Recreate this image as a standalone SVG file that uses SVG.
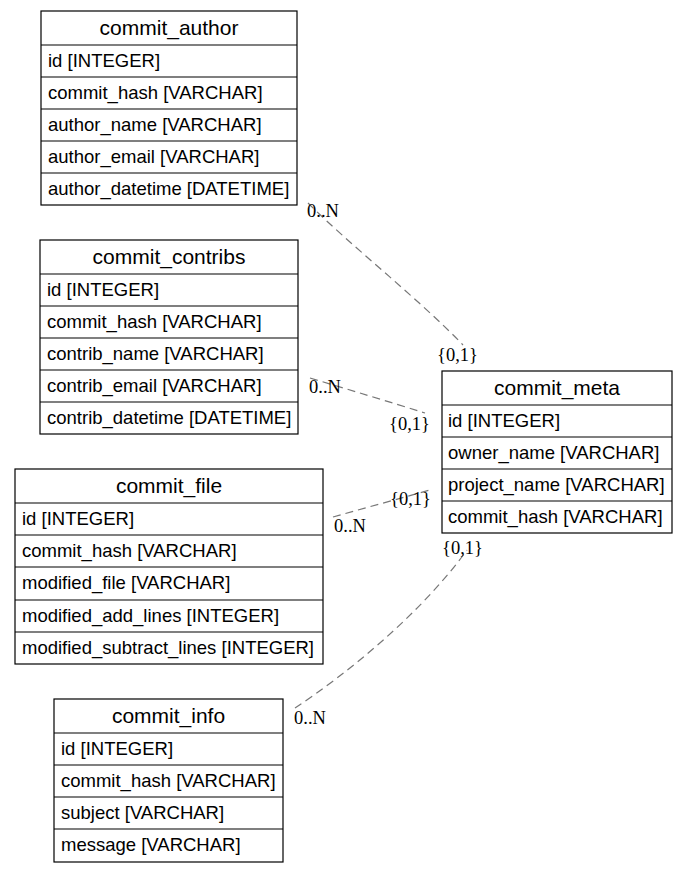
<svg xmlns="http://www.w3.org/2000/svg" width="688" height="872" viewBox="0 0 688 872">
<style>
  .box { fill: #ffffff; stroke: #000000; stroke-width: 1.2; }
  .sep { stroke: #000000; stroke-width: 1.2; }
  .hdr { font-family: "Liberation Sans", Arial, sans-serif; font-size: 21px; fill: #000; text-anchor: middle; }
  .row { font-family: "Liberation Sans", Arial, sans-serif; font-size: 18.5px; fill: #000; }
  .edge { fill: none; stroke: #777777; stroke-width: 1.2; stroke-dasharray: 8,5; }
  .lbl { font-family: "Liberation Serif", "Times New Roman", serif; font-size: 18.5px; fill: #000; }
</style>
<rect x="0" y="0" width="688" height="872" fill="#ffffff"/>

<g id="connectors">
  <path class="edge" d="M308,203 C350,245 420,300 463,345"/>
  <path class="edge" d="M310,378 C350,390 390,402 425,413"/>
  <path class="edge" d="M333,517 C365,508 398,499 430,490"/>
  <path class="edge" d="M295,708 C345,675 420,615 467,550"/>
  <text class="lbl" x="307" y="217">0..N</text>
  <text class="lbl" x="437" y="361">{0,1}</text>
  <text class="lbl" x="309" y="393">0..N</text>
  <text class="lbl" x="389" y="430">{0,1}</text>
  <text class="lbl" x="390" y="505">{0,1}</text>
  <text class="lbl" x="334" y="532">0..N</text>
  <text class="lbl" x="442" y="554">{0,1}</text>
  <text class="lbl" x="294" y="724">0..N</text>
</g>

<g id="commit_author">
  <rect class="box" x="41" y="11" width="256" height="194"/>
  <line class="sep" x1="41" y1="45" x2="297" y2="45"/>
  <line class="sep" x1="41" y1="77" x2="297" y2="77"/>
  <line class="sep" x1="41" y1="109" x2="297" y2="109"/>
  <line class="sep" x1="41" y1="141" x2="297" y2="141"/>
  <line class="sep" x1="41" y1="173" x2="297" y2="173"/>
  <text class="hdr" x="169" y="35">commit_author</text>
  <text class="row" x="48" y="67">id [INTEGER]</text>
  <text class="row" x="48" y="99">commit_hash [VARCHAR]</text>
  <text class="row" x="48" y="131">author_name [VARCHAR]</text>
  <text class="row" x="48" y="163">author_email [VARCHAR]</text>
  <text class="row" x="48" y="195">author_datetime [DATETIME]</text>
</g>

<g id="commit_contribs">
  <rect class="box" x="40" y="240" width="258" height="194"/>
  <line class="sep" x1="40" y1="274" x2="298" y2="274"/>
  <line class="sep" x1="40" y1="306" x2="298" y2="306"/>
  <line class="sep" x1="40" y1="338" x2="298" y2="338"/>
  <line class="sep" x1="40" y1="370" x2="298" y2="370"/>
  <line class="sep" x1="40" y1="402" x2="298" y2="402"/>
  <text class="hdr" x="169" y="264">commit_contribs</text>
  <text class="row" x="47" y="296">id [INTEGER]</text>
  <text class="row" x="47" y="328">commit_hash [VARCHAR]</text>
  <text class="row" x="47" y="360">contrib_name [VARCHAR]</text>
  <text class="row" x="47" y="392">contrib_email [VARCHAR]</text>
  <text class="row" x="47" y="424">contrib_datetime [DATETIME]</text>
</g>

<g id="commit_file">
  <rect class="box" x="15" y="469" width="308" height="195"/>
  <line class="sep" x1="15" y1="503" x2="323" y2="503"/>
  <line class="sep" x1="15" y1="535" x2="323" y2="535"/>
  <line class="sep" x1="15" y1="567" x2="323" y2="567"/>
  <line class="sep" x1="15" y1="600" x2="323" y2="600"/>
  <line class="sep" x1="15" y1="632" x2="323" y2="632"/>
  <text class="hdr" x="169" y="493">commit_file</text>
  <text class="row" x="22" y="525">id [INTEGER]</text>
  <text class="row" x="22" y="557">commit_hash [VARCHAR]</text>
  <text class="row" x="22" y="589">modified_file [VARCHAR]</text>
  <text class="row" x="22" y="622">modified_add_lines [INTEGER]</text>
  <text class="row" x="22" y="654">modified_subtract_lines [INTEGER]</text>
</g>

<g id="commit_info">
  <rect class="box" x="54" y="699" width="229" height="163"/>
  <line class="sep" x1="54" y1="733" x2="283" y2="733"/>
  <line class="sep" x1="54" y1="765" x2="283" y2="765"/>
  <line class="sep" x1="54" y1="797" x2="283" y2="797"/>
  <line class="sep" x1="54" y1="829" x2="283" y2="829"/>
  <text class="hdr" x="168.5" y="723">commit_info</text>
  <text class="row" x="61" y="755">id [INTEGER]</text>
  <text class="row" x="61" y="787">commit_hash [VARCHAR]</text>
  <text class="row" x="61" y="819">subject [VARCHAR]</text>
  <text class="row" x="61" y="851">message [VARCHAR]</text>
</g>

<g id="commit_meta">
  <rect class="box" x="442" y="371" width="230" height="162"/>
  <line class="sep" x1="442" y1="405" x2="672" y2="405"/>
  <line class="sep" x1="442" y1="437" x2="672" y2="437"/>
  <line class="sep" x1="442" y1="469" x2="672" y2="469"/>
  <line class="sep" x1="442" y1="501" x2="672" y2="501"/>
  <text class="hdr" x="557" y="395">commit_meta</text>
  <text class="row" x="448" y="427">id [INTEGER]</text>
  <text class="row" x="448" y="459">owner_name [VARCHAR]</text>
  <text class="row" x="448" y="491">project_name [VARCHAR]</text>
  <text class="row" x="448" y="523">commit_hash [VARCHAR]</text>
</g>
</svg>
